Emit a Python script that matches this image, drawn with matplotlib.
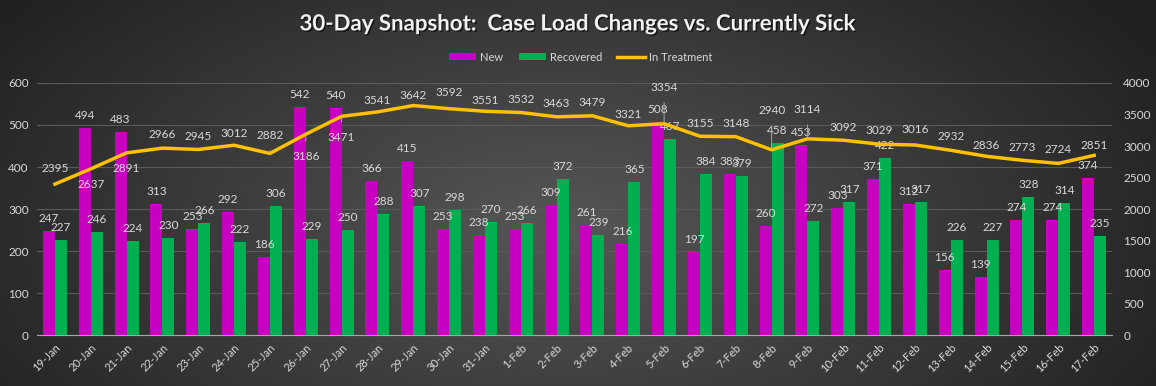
import numpy as np
import matplotlib
matplotlib.use("Agg")
from matplotlib import pyplot as plt
from matplotlib import patheffects as pe

dates = ["19-Jan", "20-Jan", "21-Jan", "22-Jan", "23-Jan", "24-Jan", "25-Jan", "26-Jan",
         "27-Jan", "28-Jan", "29-Jan", "30-Jan", "31-Jan", "1-Feb", "2-Feb", "3-Feb",
         "4-Feb", "5-Feb", "6-Feb", "7-Feb", "8-Feb", "9-Feb", "10-Feb", "11-Feb",
         "12-Feb", "13-Feb", "14-Feb", "15-Feb", "16-Feb", "17-Feb"]
new_cases = [247, 494, 483, 313, 253, 292, 186, 542, 540, 366, 415, 253, 238, 253, 309,
             261, 216, 508, 197, 383, 260, 453, 303, 371, 312, 156, 139, 274, 274, 374]
recovered = [227, 246, 224, 230, 266, 222, 306, 229, 250, 288, 307, 298, 270, 266, 372,
             239, 365, 467, 384, 379, 458, 272, 317, 422, 317, 226, 227, 328, 314, 235]
in_treatment = [2395, 2637, 2891, 2966, 2945, 3012, 2882, 3186, 3471, 3541, 3642, 3592,
                3551, 3532, 3463, 3479, 3321, 3354, 3155, 3148, 2940, 3114, 3092, 3029,
                3016, 2932, 2836, 2773, 2724, 2851]

# where the line labels sit (points from the point, negative = below the line)
line_lbl_off = [11, -11, -11.5, 9.5, 9.5, 8.5, 13, -16, -15, 8.5, 7, 11.5, 8, 9.5, 9.5,
                9.5, 8, 26, 9.5, 9.5, 28, 21, 9.5, 10, 11.5, 10, 8, 9.5, 10, 7]

plt.rcParams['font.family'] = ['Lato', 'DejaVu Sans']
txt_col = "#d9d9d9"
mag = "#c800c0"
grn = "#00b050"
gold = "#ffc000"

fig = plt.figure(figsize=(11.56, 3.86), dpi=100)

# dark radial gradient background
bg = fig.add_axes([0, 0, 1, 1], zorder=-10)
yy, xx = np.mgrid[0:386, 0:1156]
r = np.sqrt(((xx - 560) / 620.0) ** 2 + ((yy - 230) / 330.0) ** 2)
shade = np.clip(0.34 - 0.19 * r, 0.13, 0.34)
bg.imshow(np.dstack([shade] * 3), aspect="auto", origin="upper")
bg.axis("off")

ax = fig.add_axes([0.032, 0.132, 0.930, 0.653])
ax.set_facecolor("none")
x = np.arange(len(dates))
w = 0.335
ax.bar(x - w / 2, new_cases, w, color=mag, label="New", zorder=3)
ax.bar(x + w / 2, recovered, w, color=grn, label="Recovered", zorder=3)
ax.set_ylim(0, 600)
ax.set_yticks(range(0, 601, 100))
ax.set_xlim(-0.5, len(dates) - 0.5)
ax.set_xticks(x)
ax.set_xticklabels(dates, rotation=45, ha="right", rotation_mode="anchor", fontsize=8, color=txt_col)
ax.tick_params(axis="y", colors=txt_col, labelsize=8.5, length=0, pad=6)
ax.tick_params(axis="x", length=0, pad=5)
ax.grid(axis="y", color="#5a5a5a", lw=0.8, zorder=0)
for s in ["top", "right", "left"]:
    ax.spines[s].set_visible(False)
ax.spines["bottom"].set_color("#a6a6a6")

for i in range(len(dates)):
    ax.annotate(str(new_cases[i]), (x[i] - w / 2, new_cases[i]), xytext=(0, 9),
                textcoords="offset points", ha="center", va="center", color=txt_col, fontsize=8.5, zorder=5)
    ax.annotate(str(recovered[i]), (x[i] + w / 2, recovered[i]), xytext=(0, 9),
                textcoords="offset points", ha="center", va="center", color=txt_col, fontsize=8.5, zorder=5)

ax2 = ax.twinx()
ax2.plot(x, in_treatment, color=gold, lw=2.5, label="In Treatment", zorder=4)
ax2.set_ylim(0, 4000)
ax2.set_yticks(range(0, 4001, 500))
ax2.tick_params(axis="y", colors=txt_col, labelsize=8.5, length=0, pad=8)
for s in ax2.spines.values():
    s.set_visible(False)

for i in range(len(dates)):
    off = line_lbl_off[i]
    arrow = None
    if abs(off) >= 11.5:
        arrow = dict(arrowstyle="-", color="#a6a6a6", lw=0.7, shrinkA=5, shrinkB=1)
    ax2.annotate(str(in_treatment[i]), (x[i], in_treatment[i]), xytext=(0, off),
                 textcoords="offset points", ha="center", va="center", color=txt_col,
                 fontsize=8.5, arrowprops=arrow, zorder=6)

fig.text(0.5, 0.938, "30-Day Snapshot:  Case Load Changes vs. Currently Sick",
         ha="center", va="center", color="#f2f2f2", fontsize=16, fontweight="bold",
         path_effects=[pe.withSimplePatchShadow(offset=(1, -1), shadow_rgbFace="black", alpha=0.6)])

h1, l1 = ax.get_legend_handles_labels()
h2, l2 = ax2.get_legend_handles_labels()
leg = fig.legend(h1 + h2, l1 + l2, loc="center", bbox_to_anchor=(0.502, 0.852), ncol=3,
                 frameon=False, fontsize=8, handlelength=2.5, handleheight=0.6,
                 columnspacing=1.4, handletextpad=0.3)
for t in leg.get_texts():
    t.set_color(txt_col)

fig.savefig("out.png", dpi=100)
